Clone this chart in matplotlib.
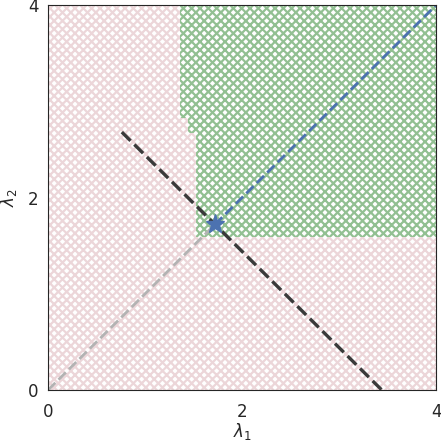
import matplotlib.pyplot as plt
import seaborn as sns

sns.set_style("white")
plt.rcParams['font.family'] = ['DejaVu Sans']
plt.rcParams['hatch.linewidth'] = 1.6

# limites do grafico
lim = [0, 4]
ticks = [0, 2, 4]

# regiao verde (bordas em degrau: lambda2 -> lambda1 minimo)
green_lam2 = [1.59, 2.67, 2.83, 4.0]
green_lam1 = [1.52, 1.44, 1.36, 1.36]

# ponto otimo (estrela)
star = (1.72, 1.72)

# reta tracejada escura
line_lam1 = [0.76, 3.44]
line_lam2 = [2.68, 0.0]

fig = plt.figure(figsize=(4.41, 4.43), dpi=100)
ax = fig.add_axes([0.109, 0.1196, 0.88, 0.869])

# fundo rosa hachurado
ax.fill_between(lim, lim[0], lim[1], facecolor='white', edgecolor='#ecd6d9',
                hatch='xxxx', linewidth=0)

# regiao verde hachurada
ax.fill_betweenx(green_lam2, green_lam1, lim[1], step='post', facecolor='white',
                 edgecolor='#92c092', hatch='xxxx', linewidth=0)

# tracejados
ax.plot([0, star[0]], [0, star[1]], ls='--', color='#b3b3b3', lw=2.0)
ax.plot([star[0], lim[1]], [star[1], lim[1]], ls='--', color='#4c72b0', lw=2.0)
ax.plot(line_lam1, line_lam2, ls='--', color='#3a3a3a', lw=2.4)
ax.plot(star[0], star[1], marker='*', color='#4c72b0', ms=14, mec='#4c72b0')

ax.set_xlim(lim)
ax.set_ylim(lim)
ax.set_xticks(ticks)
ax.set_yticks(ticks)
ax.tick_params(labelsize=12, length=0)
ax.tick_params(axis='x', pad=9)
ax.tick_params(axis='y', pad=7)
ax.set_xlabel(r"$\lambda_1$", fontsize=12, labelpad=0)
ax.set_ylabel(r"$\lambda_2$", fontsize=12, labelpad=6)

plt.savefig("out.png", dpi=100)
